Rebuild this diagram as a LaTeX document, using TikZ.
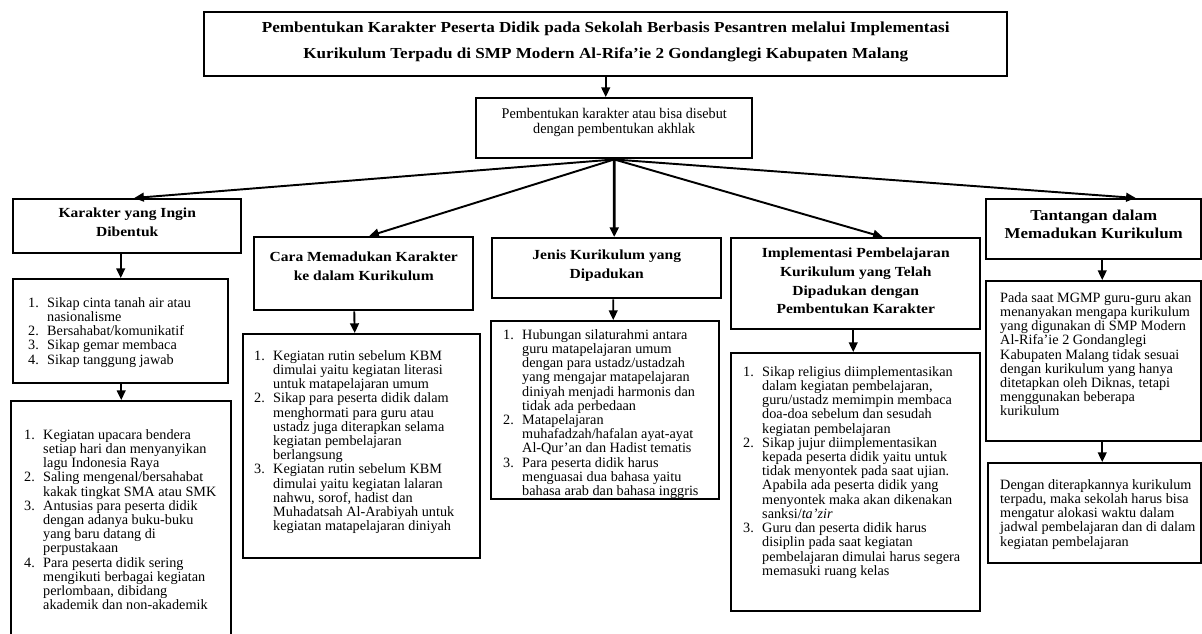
\documentclass[tikz,border=0pt]{standalone}
\usepackage{fontspec}
\setmainfont{Liberation Serif}
\newfontfamily\headfont[FakeStretch=1.12]{Liberation Serif}
\newfontfamily\introfont[FakeStretch=0.96]{Liberation Serif}
\usetikzlibrary{calc,arrows.meta,positioning}
% sizes are given in pixels of the picture
\newcommand{\px}[1]{\dimexpr0.02cm*#1\relax}
% box contents: width, height, top gap, left gap, text
\newcommand{\panel}[5]{\begin{minipage}[t][\px{#2}][t]{\px{#1}}\vspace*{\px{#3}}\leftskip=\px{#4}\rightskip=-\px{8} plus 1fil\parfillskip=0pt plus 1fil\parindent=0pt #5\end{minipage}}
\newcommand{\headpanel}[4]{\begin{minipage}[t][\px{#2}][t]{\px{#1}}\vspace*{\px{#3}}\centering #4\end{minipage}}
\newcommand{\entry}[2]{\par\hangindent=\px{19}\hangafter=1\noindent\makebox[\px{19}][l]{#1.}#2}
\tikzset{box/.style={draw, line width=1.4pt, inner sep=0pt, anchor=north west},
  headbox/.style={box, font=\headfont\fontsize{7.9}{10.6}\selectfont\bfseries},
  listbox/.style={box, font=\fontsize{8.1}{8.1}\selectfont},
  arr/.style={line width=1.1pt, -{Triangle[length=5.5pt,width=5pt]}}}

\begin{document}
\begin{tikzpicture}[x=0.02cm,y=-0.02cm]
    \useasboundingbox (0,0) rectangle (1202,634);
    % top of the tree
    \node[box, font=\headfont\fontsize{8.7}{14.7}\selectfont\bfseries] (title) at (203,11) {\headpanel{803}{64}{10}{Pembentukan Karakter Peserta Didik pada Sekolah Berbasis Pesantren melalui Implementasi\\Kurikulum Terpadu di SMP Modern Al-Rifa’ie 2 Gondanglegi Kabupaten Malang}};
    \node[box, font=\introfont\fontsize{8.4}{8.5}\selectfont] (intro) at (475,97) {\headpanel{276}{60}{10}{Pembentukan karakter atau bisa disebut\\dengan pembentukan akhlak}};
    % five branches
    \node[headbox] (k1) at (12,198) {\headpanel{228}{54}{9}{Karakter yang Ingin\\Dibentuk}};
    \node[headbox] (k2) at (253,236) {\headpanel{219}{73}{15}{Cara Memadukan Karakter\\ke dalam Kurikulum}};
    \node[headbox] (k3) at (491,237) {\headpanel{229}{60}{12}{Jenis Kurikulum yang\\Dipadukan}};
    \node[headbox] (k4) at (730,237) {\headpanel{249}{91}{10}{Implementasi Pembelajaran\\Kurikulum yang Telah\\Dipadukan dengan\\Pembentukan Karakter}};
    \node[headbox, font=\headfont\fontsize{8.6}{10.4}\selectfont\bfseries] (k5) at (985,198) {\headpanel{215}{60}{11}{Tantangan dalam\\Memadukan Kurikulum}};
    % details
    \node[listbox] (k1a) at (12,278) {\panel{215}{104}{18}{15}{%
        \entry{1}{Sikap cinta tanah air atau\\nasionalisme}
        \entry{2}{Bersahabat/komunikatif}
        \entry{3}{Sikap gemar membaca}
        \entry{4}{Sikap tanggung jawab}}};
    \node[listbox] (k1b) at (10,400) {\panel{220}{245}{28}{13}{%
        \entry{1}{Kegiatan upacara bendera\\setiap hari dan menyanyikan\\lagu Indonesia Raya}
        \entry{2}{Saling mengenal/bersahabat\\kakak tingkat SMA atau SMK}
        \entry{3}{Antusias para peserta didik\\dengan adanya buku-buku\\yang baru datang di\\perpustakaan}
        \entry{4}{Para peserta didik sering\\mengikuti berbagai kegiatan\\perlombaan, dibidang\\akademik dan non-akademik}}};
    \node[listbox] (k2a) at (242,333) {\panel{237}{224}{16}{11}{%
        \entry{1}{Kegiatan rutin sebelum KBM\\dimulai yaitu kegiatan literasi\\untuk matapelajaran umum}
        \entry{2}{Sikap para peserta didik dalam\\menghormati para guru atau\\ustadz juga diterapkan selama\\kegiatan pembelajaran\\berlangsung}
        \entry{3}{Kegiatan rutin sebelum KBM\\dimulai yaitu kegiatan lalaran\\nahwu, sorof, hadist dan\\Muhadatsah Al-Arabiyah untuk\\kegiatan matapelajaran diniyah}}};
    \node[listbox] (k3a) at (490,320) {\panel{228}{178}{8}{12}{%
        \entry{1}{Hubungan silaturahmi antara\\guru matapelajaran umum\\dengan para ustadz/ustadzah\\yang mengajar matapelajaran\\diniyah menjadi harmonis dan\\tidak ada perbedaan}
        \entry{2}{Matapelajaran\\muhafadzah/hafalan ayat-ayat\\Al-Qur’an dan Hadist tematis}
        \entry{3}{Para peserta didik harus\\menguasai dua bahasa yaitu\\bahasa arab dan bahasa inggris}}};
    \node[listbox] (k4a) at (730,352) {\panel{249}{258}{13}{12}{%
        \entry{1}{Sikap religius diimplementasikan\\dalam kegiatan pembelajaran,\\guru/ustadz memimpin membaca\\doa-doa sebelum dan sesudah\\kegiatan pembelajaran}
        \entry{2}{Sikap jujur diimplementasikan\\kepada peserta didik yaitu untuk\\tidak menyontek pada saat ujian.\\Apabila ada peserta didik yang\\menyontek maka akan dikenakan\\sanksi/\textit{ta’zir}}
        \entry{3}{Guru dan peserta didik harus\\disiplin pada saat kegiatan\\pembelajaran dimulai harus segera\\memasuki ruang kelas}}};
    \node[listbox] (k5a) at (985,280) {\panel{215}{160}{11}{14}{Pada saat MGMP guru-guru akan\\menanyakan mengapa kurikulum\\yang digunakan di SMP Modern\\Al-Rifa’ie 2 Gondanglegi\\Kabupaten Malang tidak sesuai\\dengan kurikulum yang hanya\\ditetapkan oleh Diknas, tetapi\\menggunakan beberapa\\kurikulum}};
    \node[listbox] (k5b) at (987,462) {\panel{213}{100}{16}{12}{Dengan diterapkannya kurikulum\\terpadu, maka sekolah harus bisa\\mengatur alokasi waktu dalam\\jadwal pembelajaran dan di dalam\\kegiatan pembelajaran}};
    % connectors
    \draw[arr] (title.south) -- (title.south |- intro.north);
    \draw[arr] (intro.south) -- ($(k1.north)+(7,0)$);
    \draw[arr] (intro.south) -- ($(k2.north)+(5.5,0)$);
    \draw[arr, line width=1.5pt] (intro.south) -- ($(k3.north)+(7.5,0)$);
    \draw[arr] (intro.south) -- ($(k4.north)+(27,0)$);
    \draw[arr] (intro.south) -- ($(k5.north)+(42,0)$);
    \draw[arr] (k1a.north |- k1.south) -- (k1a.north);
    \draw[arr] (k1b.north |- k1a.south) -- (k1b.north);
    \draw[arr] ($(k2.south)+(-9.5,0)$) -- ($(k2a.north)+(-7,0)$);
    \draw[arr] ($(k3.south)+(6.5,0)$) -- ($(k3a.north)+(8,0)$);
    \draw[arr] ($(k4.south)+(-2.5,0)$) -- ($(k4a.north)+(-2.5,0)$);
    \draw[arr] ($(k5.south)+(8.5,0)$) -- ($(k5a.north)+(8.5,0)$);
    \draw[arr] ($(k5a.south)+(8.5,0)$) -- ($(k5b.north)+(7.5,0)$);
\end{tikzpicture}
\end{document}
